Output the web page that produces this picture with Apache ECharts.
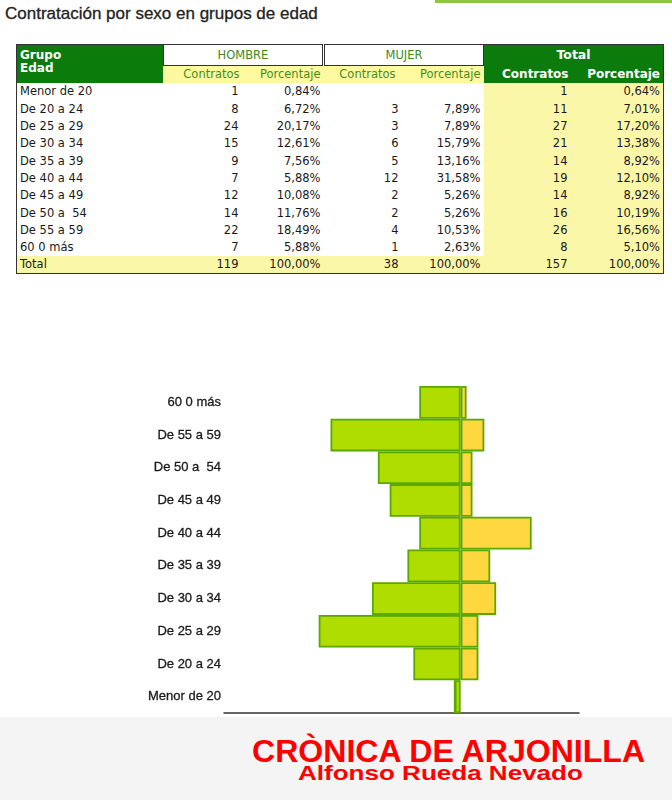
<!DOCTYPE html>
<html>
<head>
<meta charset="utf-8">
<script src="https://cdn.jsdelivr.net/npm/echarts@6/dist/echarts.min.js"></script>
<style>
  html, body { margin: 0; padding: 0; background: #fff; }
  #page { position: relative; width: 672px; height: 800px; overflow: hidden; }
  #title { position: absolute; left: 5px; top: 4px; font: 17px 'Liberation Sans', Arial, sans-serif; color: #222; -webkit-text-stroke: 0.3px #222; }
  #topline { position: absolute; left: 435px; top: 0; width: 237px; height: 3px; background: #8dc63f; }
  #tbl { position: absolute; left: 16px; top: 44px; width: 647px; border-collapse: collapse; table-layout: fixed;
         font: 11.5px 'DejaVu Sans', Tahoma, sans-serif; color: #1a1a1a; border: 1.5px solid #333; }
  #tbl td { padding: 0 3px; height: 17.3px; line-height: 14px; white-space: pre; text-align: right; overflow: hidden; }
  #tbl td.lab { text-align: left; }
  #tbl td.tot { background: #fbf7a8; }
  #tbl tr.sum td { background: #fbf7a8; }
  #tbl .gh { background: #0b7b0b; color: #fff; font-weight: bold; }
  #tbl .sexo { background: #fff; color: #3d8a1f; text-align: center; border: 1.5px solid #333; height: 20px; }
  #tbl .sub { background: #fdf9a0; color: #4b8b1a; text-align: center; height: 16px; }
  #chart { position: absolute; left: 0; top: 290px; width: 672px; height: 430px; }
  #footer { position: absolute; left: 0; top: 717px; width: 672px; height: 83px; background: #f4f4f4; }
  #f1 { position: absolute; left: 252px; top: 734px; font: bold 31px 'Liberation Sans', Arial, sans-serif; color: #f00; transform-origin: left top; }
  #f2 { position: absolute; left: 298px; top: 762px; font: bold 20px 'Liberation Sans', Arial, sans-serif; color: #f00; transform-origin: left top; }
</style>
</head>
<body>
<div id="page">
  <div id="topline"></div>
  <div id="title">Contratación por sexo en grupos de edad</div>
  <table id="tbl"></table>
  <div id="footer"></div>
  <div id="chart"></div>
  <div id="f1">CRÒNICA DE ARJONILLA</div>
  <div id="f2">Alfonso Rueda Nevado</div>
</div>
<script>
// grupos de edad (de menor a mayor)
const grupos = ['Menor de 20', 'De 20 a 24', 'De 25 a 29', 'De 30 a 34', 'De 35 a 39',
  'De 40 a 44', 'De 45 a 49', 'De 50 a  54', 'De 55 a 59', '60 0 más'];

const hombreContratos = [1, 8, 24, 15, 9, 7, 12, 14, 22, 7];
const hombrePct = [0.84, 6.72, 20.17, 12.61, 7.56, 5.88, 10.08, 11.76, 18.49, 5.88];
const mujerContratos = [null, 3, 3, 6, 5, 12, 2, 2, 4, 1];
const mujerPct = [null, 7.89, 7.89, 15.79, 13.16, 31.58, 5.26, 5.26, 10.53, 2.63];
const totalContratos = [1, 11, 27, 21, 14, 19, 14, 16, 26, 8];
const totalPct = [0.64, 7.01, 17.20, 13.38, 8.92, 12.10, 8.92, 10.19, 16.56, 5.10];

const sumHombre = 119;
const sumMujer = 38;
const sumTotal = 157;

// formato de porcentaje con coma decimal
function pct(v) {
  if (v == null) return '';
  return v.toFixed(2).replace('.', ',') + '%';
}
function num(v) {
  return v == null ? '' : String(v);
}

/**
 * Tabla de datos
 */
function buildTable() {
  const tbl = document.getElementById('tbl');
  let html = '<colgroup><col style="width:147px"><col style="width:80px"><col style="width:80px">' +
    '<col style="width:80px"><col style="width:80px"><col style="width:90px"><col style="width:90px"></colgroup>';

  html += '<tr>' +
    '<td class="gh lab" rowspan="2" style="vertical-align:top;padding-top:4px;line-height:13px;font-size:12px;">Grupo\nEdad</td>' +
    '<td class="sexo" colspan="2" style="border-right:3px double #333;">HOMBRE</td>' +
    '<td class="sexo" colspan="2">MUJER</td>' +
    '<td class="gh" colspan="2" style="text-align:center;font-size:12.5px;">Total</td>' +
    '</tr>';
  html += '<tr>' +
    '<td class="sub" style="text-align:right;padding-right:4px;">Contratos</td>' +
    '<td class="sub" style="text-align:right;">Porcentaje</td>' +
    '<td class="sub" style="text-align:right;padding-right:8px;">Contratos</td>' +
    '<td class="sub" style="text-align:right;">Porcentaje</td>' +
    '<td class="gh" style="text-align:right;font-size:12px;padding-right:5px;">Contratos</td>' +
    '<td class="gh" style="text-align:right;font-size:12px;">Porcentaje</td>' +
    '</tr>';

  grupos.forEach((g, i) => {
    html += '<tr>' +
      `<td class="lab">${g}</td>` +
      `<td style="padding-right:5px;">${num(hombreContratos[i])}</td>` +
      `<td>${pct(hombrePct[i])}</td>` +
      `<td style="padding-right:5px;">${num(mujerContratos[i])}</td>` +
      `<td>${pct(mujerPct[i])}</td>` +
      `<td class="tot" style="padding-right:6px;">${num(totalContratos[i])}</td>` +
      `<td class="tot">${pct(totalPct[i])}</td>` +
      '</tr>';
  });

  html += '<tr class="sum">' +
    '<td class="lab">Total</td>' +
    `<td style="padding-right:5px;">${sumHombre}</td><td>${pct(100)}</td>` +
    `<td style="padding-right:5px;">${sumMujer}</td><td>${pct(100)}</td>` +
    `<td style="padding-right:6px;">${sumTotal}</td><td>${pct(100)}</td>` +
    '</tr>';

  tbl.innerHTML = html;
}

/**
 * Pirámide de edad
 */
function buildChart() {
  const chart = echarts.init(document.getElementById('chart'), null, { renderer: 'canvas' });

  const option = {
    animation: false,
    grid: { left: 224, top: 96, width: 355, height: 327 },
    xAxis: {
      type: 'value',
      min: -40,
      max: 20,
      axisLine: { show: true, onZero: false, lineStyle: { color: '#333', width: 1.5 } },
      axisTick: { show: false },
      axisLabel: { show: false },
      splitLine: { show: false }
    },
    yAxis: {
      type: 'category',
      data: grupos,
      axisLine: { show: false },
      axisTick: { show: false },
      axisLabel: {
        margin: 3,
        fontFamily: 'Liberation Sans, Arial, sans-serif',
        fontSize: 13,
        color: '#1a1a1a',
        textBorderColor: '#1a1a1a',
        textBorderWidth: 0.3
      }
    },
    series: [
      {
        name: 'Hombre',
        type: 'bar',
        stack: 'edad',
        barWidth: '100%',
        data: hombreContratos.map(v => -v),
        itemStyle: { color: '#afdd00', borderColor: '#5aa800', borderWidth: 1.8 }
      },
      {
        name: 'Mujer',
        type: 'bar',
        stack: 'edad',
        barWidth: '100%',
        data: mujerContratos.map(v => v == null ? 0 : v),
        itemStyle: { color: '#ffd83f', borderColor: '#5aa800', borderWidth: 1.8 }
      }
    ]
  };

  chart.setOption(option);
}

buildTable();
buildChart();

// ajustar el ancho del pie de página
['f1', 'f2'].forEach((id, i) => {
  const el = document.getElementById(id);
  const target = i === 0 ? 393 : 285;
  el.style.transform = `scaleX(${target / el.offsetWidth})`;
});
</script>
</body>
</html>
